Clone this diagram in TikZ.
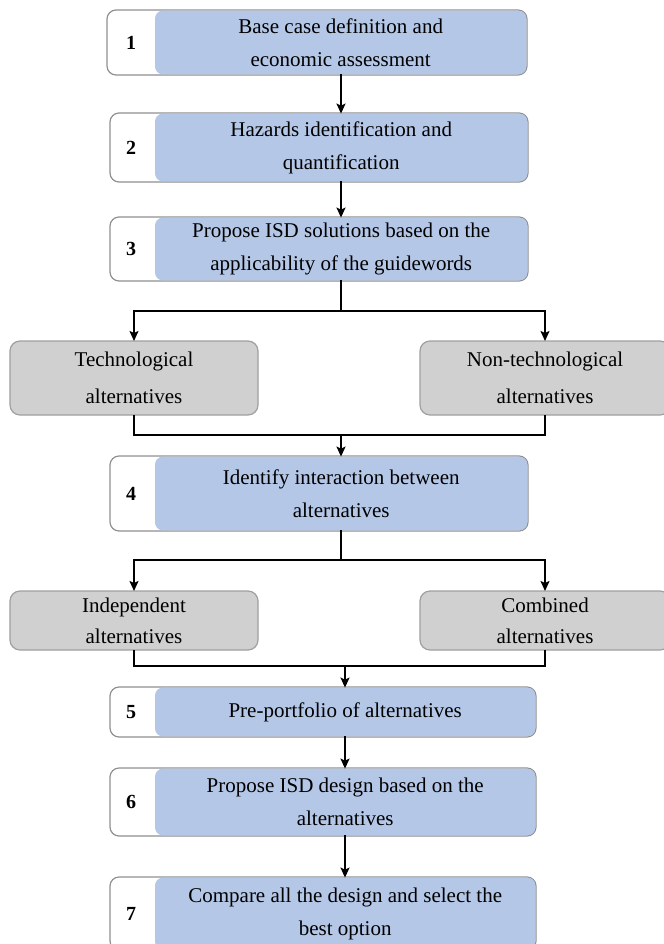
\documentclass[tikz,border=0pt]{standalone}
\usepackage{fontspec}
\setmainfont{Liberation Serif}
\usetikzlibrary{arrows.meta,calc}
\definecolor{stepblue}{HTML}{B4C7E7}
\definecolor{altgray}{HTML}{D0D0D0}
\definecolor{altborder}{HTML}{A0A0A0}
\definecolor{stepborder}{HTML}{909090}
\tikzset{
  outerbox/.style={draw=stepborder, line width=1.2bp, fill=white, rounded corners=9bp, inner sep=0pt, outer sep=0pt},
  bluebox/.style={fill=stepblue, rounded corners=8bp, inner sep=0pt, outer sep=0pt, align=center, font=\fontsize{21bp}{33bp}\selectfont},
  numlabel/.style={font=\fontsize{20bp}{22bp}\selectfont\bfseries},
  altbox/.style={draw=altborder, line width=1.2bp, fill=altgray, rounded corners=10bp, inner sep=0pt, outer sep=0pt, align=center},
  conn/.style={line width=1.6bp, black},
  arr/.style={conn, -{Stealth[length=10bp,width=9bp,inset=2bp]}},
}
% #1 name, #2 x1, #3 y1, #4 x2, #5 y2, #6 number, #7 text
\newcommand{\mkstep}[7]{%
  \node[outerbox, minimum width={(#4-#2)*1bp}, minimum height={(#5-#3)*1bp}] (o#1) at ({(#2+#4)/2},{(#3+#5)/2}) {};
  \node[bluebox, minimum width={(#4-0.6-155)*1bp}, minimum height={(#5-#3-1.2)*1bp}] (#1) at ({(155+#4-0.6)/2},{(#3+#5)/2}) {#7};
  \node[numlabel] (n#1) at (131,{(#3+#5)/2}) {#6};
}
\begin{document}
\begin{tikzpicture}[x=1bp,y=-1bp]
\useasboundingbox (0,0) rectangle (664,944);

\mkstep{b1}{107}{10}{527}{75}{1}{Base case definition and\\economic assessment}
\mkstep{b2}{110}{113}{528}{182}{2}{Hazards identification and\\quantification}
\mkstep{b3}{110}{217}{528}{281}{3}{Propose ISD solutions based on the\\applicability of the guidewords}
\mkstep{b4}{110}{456}{528}{531}{4}{Identify interaction between\\alternatives}
\mkstep{b5}{110}{687}{536}{737}{5}{Pre-portfolio of alternatives}
\mkstep{b6}{110}{768}{536}{836}{6}{Propose ISD design based on the\\alternatives}
\mkstep{b7}{110}{877}{536}{950}{7}{Compare all the design and select the\\best option}

\node[altbox, minimum width=248bp, minimum height=74bp, font=\fontsize{21bp}{37bp}\selectfont] (tech) at (134,378) {Technological\\alternatives};
\node[altbox, minimum width=250bp, minimum height=74bp, font=\fontsize{21bp}{37bp}\selectfont] (nontech) at (545,378) {Non-technological\\alternatives};
\node[altbox, minimum width=248bp, minimum height=59bp, font=\fontsize{21bp}{31bp}\selectfont] (indep) at (134,620.5) {\raisebox{3bp}{\parbox{10em}{\centering Independent\\alternatives}}};
\node[altbox, minimum width=250bp, minimum height=59bp, font=\fontsize{21bp}{31bp}\selectfont] (comb) at (545,620.5) {\raisebox{3bp}{\parbox{10em}{\centering Combined\\alternatives}}};

\coordinate (j1) at (341,311);
\coordinate (j2) at (341,435);
\coordinate (j3) at (341,560);
\coordinate (j4) at (345,666);

\draw[arr] (b1.south -| j1) -- (b2.north -| j1);
\draw[arr] (b2.south -| j1) -- (b3.north -| j1);
\draw[conn] (b3.south -| j1) -- (j1);
\draw[arr] (j1) -| (tech.north);
\draw[arr] (j1) -| (nontech.north);
\draw[conn] (tech.south) |- (j2) -| (nontech.south);
\draw[arr] (j2) -- (b4.north -| j2);
\draw[conn] (b4.south -| j3) -- (j3);
\draw[arr] (j3) -| (indep.north);
\draw[arr] (j3) -| (comb.north);
\draw[conn] (indep.south) |- (j4) -| (comb.south);
\draw[arr] (j4) -- (b5.north -| j4);
\draw[arr] (b5.south -| j4) -- (b6.north -| j4);
\draw[arr] (b6.south -| j4) -- (b7.north -| j4);
\end{tikzpicture}
\end{document}
